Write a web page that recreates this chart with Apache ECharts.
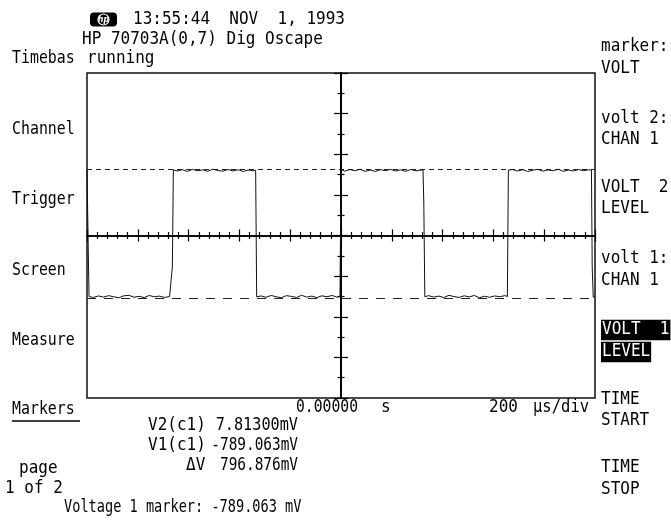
<!DOCTYPE html>
<html>
<head>
<meta charset="utf-8">
<script src="https://cdn.jsdelivr.net/npm/echarts@6/dist/echarts.min.js"></script>
<style>
  html, body { margin: 0; padding: 0; background: #fff; }
  #scope { width: 671px; height: 520px; }
</style>
</head>
<body>
<div id="scope"></div>
<script>
// Timebase: 200 µs/div across 10 divisions, centred on the trigger point
const timeSpanUs = [-1000, 1000];
// Vertical: 250 mV/div across 8 divisions, centre line at -400 mV
const voltSpanMv = [-1400, 600];

// Captured channel 1 trace: sample times (µs) and levels (mV)
const traceTimeUs = [
  -1000, -996, -992,
  -975, -955, -935, -915, -895, -875, -855, -835, -815, -795, -775, -755, -735, -715, -695, -675, -668,
  -664, -660,
  -645, -625, -605, -585, -565, -545, -525, -505, -485, -465, -445, -425, -405, -385, -365, -345, -336,
  -332,
  -315, -295, -275, -255, -235, -215, -195, -175, -155, -135, -115, -95, -75, -55, -35, -15, -4,
  -1, 2,
  15, 35, 55, 75, 95, 115, 135, 155, 175, 195, 215, 235, 255, 275, 295, 315, 323,
  326, 330,
  345, 365, 385, 405, 425, 445, 465, 485, 505, 525, 545, 565, 585, 605, 625, 645, 655,
  659,
  675, 695, 715, 735, 755, 775, 795, 815, 835, 855, 875, 895, 915, 935, 955, 975, 986,
  989, 993, 1000
];
const traceMv = [
  6, -400, -776,
  -781, -772, -779, -770, -777, -783, -771, -768, -780, -774, -782, -769, -777, -773, -781, -776, -779,
  -594, 4,
  -3, 5, -6, 7, -2, 4, -5, 8, 0, -4, 6, -3, 5, -6, 3, -2, 2,
  -778,
  -772, -780, -769, -777, -783, -770, -775, -781, -768, -779, -773, -782, -771, -777, -769, -780, -776,
  -200, 5,
  -4, 6, -2, 8, -5, 3, -6, 5, -1, 7, -3, 4, -5, 6, -2, 3, 1,
  -200, -777,
  -770, -779, -773, -782, -768, -776, -781, -771, -778, -769, -783, -774, -780, -772, -777, -770, -775,
  3,
  6, -3, 5, -6, 2, 7, -4, 4, -2, 8, -5, 3, -3, 6, -1, 4, 2,
  -594, -779, -776
];

// Voltage marker readouts (mV)
const markerV2 = 7.813;
const markerV1 = -789.063;

// Softkey labels
const leftKeys = ['Timebas', 'Channel', 'Trigger', 'Screen', 'Measure', 'Markers'];
const rightKeys = [
  ['marker:', 'VOLT'], ['volt 2:', 'CHAN 1'], ['VOLT  2', 'LEVEL'],
  ['volt 1:', 'CHAN 1'], ['VOLT  1', 'LEVEL'], ['TIME', 'START'], ['TIME', 'STOP']
];

// Screen header / footer text
const headerDate = '13:55:44  NOV  1, 1993';
const headerInstrument = 'HP 70703A(0,7) Dig Oscape';
const statusText = 'running';
const timeRefText = '0.00000';
const timeUnitText = 's';
const timeDivText = '200';
const timeDivUnit = 'µs/div';
const pageText = ['page', '1 of 2'];

const FONT = '16px "DejaVu Sans Mono", "Liberation Mono", monospace';

// Tall, narrow screen lettering: stretch glyphs slightly in height
function label(text, x, y, extra, scaleX) {
  return {
    type: 'text', x: x, y: y, silent: true,
    scaleX: scaleX || 1, scaleY: 1.08,
    style: Object.assign({
      text: text, font: FONT, fill: '#000',
      textAlign: 'left', textVerticalAlign: 'middle',
      align: 'left', verticalAlign: 'middle'
    }, extra || {})
  };
}
const RIGHT = { textAlign: 'right', align: 'right' };

const fmt = (v, d) => v.toFixed(d) + 'mV';
const deltaMv = markerV2 - markerV1;

const graphics = [];
// HP logo badge
graphics.push({ type: 'rect', shape: { x: 90, y: 12.5, width: 27, height: 14, r: 4 }, style: { fill: '#000' }, silent: true });
graphics.push({ type: 'circle', shape: { cx: 103.5, cy: 19.5, r: 5.5 }, style: { fill: 'none', stroke: '#fff', lineWidth: 1.2 }, silent: true });
graphics.push({
  type: 'text', x: 103.5, y: 19.5, silent: true,
  style: { text: 'hp', font: 'italic bold 8px "DejaVu Sans"', fill: '#fff', textAlign: 'center', align: 'center', textVerticalAlign: 'middle', verticalAlign: 'middle' }
});

graphics.push(label(headerDate, 133, 20));
graphics.push(label(headerInstrument, 82, 40));
graphics.push(label(statusText, 87, 59));

// Left softkeys
const leftY = [59, 130, 200, 271, 341, 410];
leftKeys.forEach((k, i) => graphics.push(label(k, 12, leftY[i], null, 0.93)));
graphics.push({ type: 'line', shape: { x1: 12, y1: 421, x2: 80, y2: 421 }, style: { stroke: '#000', lineWidth: 1.5 }, silent: true });
graphics.push(label(pageText[0], 19, 469));
graphics.push(label(pageText[1], 5, 489));

// Right softkeys
const rightY = [[47, 69], [119, 140], [188, 209], [259, 281], [330, 352], [400, 421], [468, 490]];
rightKeys.forEach((pair, i) => {
  const inverse = i === 4;
  pair.forEach((t, j) => {
    const extra = inverse ? { fill: '#fff', backgroundColor: '#000', padding: [2, 1, 1, 1] } : {};
    graphics.push(label(t, 601, rightY[i][j], extra));
  });
});

// Timebase readout under the graticule
graphics.push(label(timeRefText, 358, 408, RIGHT, 0.92));
graphics.push(label(timeUnitText, 381, 408));
graphics.push(label(timeDivText, 518, 408, RIGHT));
graphics.push(label(timeDivUnit, 533, 408, null, 0.97));

// Marker readouts
graphics.push(label('V2(c1)', 148, 426));
graphics.push(label(fmt(markerV2, 5), 298, 426, RIGHT, 0.95));
graphics.push(label('V1(c1)', 148, 446));
graphics.push(label(fmt(markerV1, 3), 298, 446, RIGHT, 0.9));
graphics.push(label('\u0394V', 186, 466));
graphics.push(label(fmt(deltaMv, 3), 298, 466, RIGHT, 0.9));
graphics.push(label('Voltage 1 marker: ' + markerV1.toFixed(3) + ' mV', 64, 508, null, 0.85));

const plotRect = { left: 87, top: 73, width: 508, height: 325 };

function graticuleAxis(dim, gridIndex, inside) {
  const isX = dim === 'x';
  return {
    gridIndex: gridIndex, type: 'value',
    min: isX ? -5 : -4, max: isX ? 5 : 4, interval: 1,
    axisLine: { show: true, onZero: true, lineStyle: { color: '#000', width: isX ? 1.5 : 2 } },
    axisTick: { show: true, inside: inside, length: isX ? 6 : 7, lineStyle: { color: '#000', width: 1.2 } },
    minorTick: { show: true, splitNumber: isX ? 5 : 2, length: 3.5, lineStyle: { color: '#000', width: 1.2 } },
    axisLabel: { show: false }, splitLine: { show: false }, minorSplitLine: { show: false }
  };
}

const chart = echarts.init(document.getElementById('scope'), null, { renderer: 'canvas' });
chart.setOption({
  animation: false,
  backgroundColor: '#fff',
  grid: [
    Object.assign({ show: true, borderColor: '#111', borderWidth: 1.5, backgroundColor: 'transparent' }, plotRect),
    Object.assign({ show: false }, plotRect),
    Object.assign({ show: false }, plotRect)
  ],
  xAxis: [
    { gridIndex: 0, type: 'value', min: timeSpanUs[0], max: timeSpanUs[1], show: false },
    graticuleAxis('x', 1, true),
    graticuleAxis('x', 2, false)
  ],
  yAxis: [
    { gridIndex: 0, type: 'value', min: voltSpanMv[0], max: voltSpanMv[1], show: false },
    graticuleAxis('y', 1, true),
    graticuleAxis('y', 2, false)
  ],
  series: [{
    type: 'line', xAxisIndex: 0, yAxisIndex: 0,
    data: traceTimeUs.map((t, i) => [t, traceMv[i]]),
    showSymbol: false, symbol: 'none', z: 5,
    lineStyle: { color: '#111', width: 1 },
    markLine: {
      silent: true, symbol: ['none', 'none'], label: { show: false },
      animation: false,
      data: [
        { yAxis: markerV2, lineStyle: { color: '#222', width: 1, type: [5, 4] } },
        { yAxis: markerV1, lineStyle: { color: '#222', width: 1, type: [9, 8] } }
      ]
    }
  }],
  graphic: { elements: graphics }
});
</script>
</body>
</html>
